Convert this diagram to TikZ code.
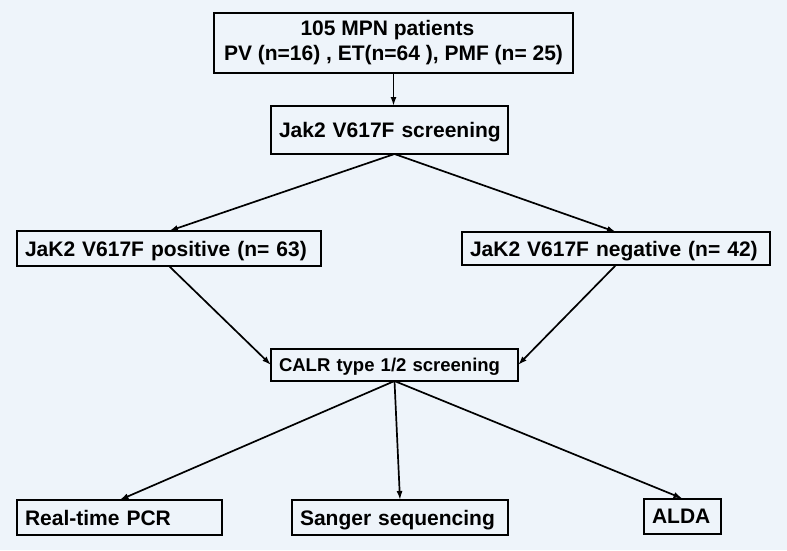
\documentclass[tikz,border=0pt]{standalone}
\usepackage{fontspec}
\setmainfont{Liberation Sans}
\usetikzlibrary{arrows.meta}

\definecolor{bgblue}{RGB}{238,244,250}

\tikzset{
	    flowbox/.style={
					draw=black,
					line width=2pt,
					fill=bgblue,
					rectangle,
					inner xsep=8pt,
					inner ysep=0pt,
					outer sep=0pt,
					minimum height=35pt,
					text height=15pt,
					text depth=0pt,
					align=left,
					font=\fontsize{21}{25}\selectfont\bfseries
	    },
	    flowarrow/.style={
					black,
					line width=1.7pt,
					-{Latex[length=9pt,width=6pt]}
	    }
		}

\begin{document}
\begin{tikzpicture}[x=1pt,y=-1pt]
			\fill[bgblue] (0,0) rectangle (787,550);
			\useasboundingbox (0,0) rectangle (787,550);

			\node[flowbox, align=center, minimum width=359pt, minimum height=60pt, text height=, text depth=] (patients) at (393.5,43) {105 MPN patients\hspace*{12pt}\\PV (n=16) , ET(n=64 ), PMF (n= 25)};
			\node[flowbox, anchor=west, text width=221pt, minimum height=48pt] (jakscreen) at (271,130) {\mbox{Jak2 V617F screening}};

			\node[flowbox, anchor=west, text width=288pt] (jakpos) at (17,248.5) {\mbox{JaK2 V617F positive (n= 63)}};
			\node[flowbox, anchor=west, text width=292pt, minimum height=33pt] (jakneg) at (462,248.5) {\mbox{JaK2 V617F negative (n= 42)}};

			\node[flowbox, anchor=west, text width=231pt, minimum height=32pt, text height=13.2pt, font=\fontsize{18.5}{22}\selectfont\bfseries] (calr) at (271,365) {\mbox{CALR type 1/2 screening}};

			\node[flowbox, anchor=west, text width=189pt] (pcr) at (17,517.5) {\mbox{Real-time PCR}};
			\node[flowbox, anchor=west, text width=200pt] (sanger) at (292,517.5) {\mbox{Sanger sequencing}};
			\node[flowbox, anchor=west, text width=61pt] (alda) at (644,516) {\mbox{ALDA}};

			\coordinate (jakapex) at ([xshift=5pt]jakscreen.south);

			\draw[flowarrow] (patients.south) to (patients.south |- jakscreen.north);
			\draw[flowarrow] (jakapex) to (jakpos.north);
			\draw[flowarrow] (jakapex) to (jakneg.north);

			\draw[flowarrow] (jakpos.south) to (calr.west);
			\draw[flowarrow] (jakneg.south) to (calr.east);

			\draw[flowarrow] (calr.south) to (pcr.north);
			\draw[flowarrow] (calr.south) to (sanger.north);
			\draw[flowarrow] (calr.south) to (alda.north);
		\end{tikzpicture}
\end{document}
